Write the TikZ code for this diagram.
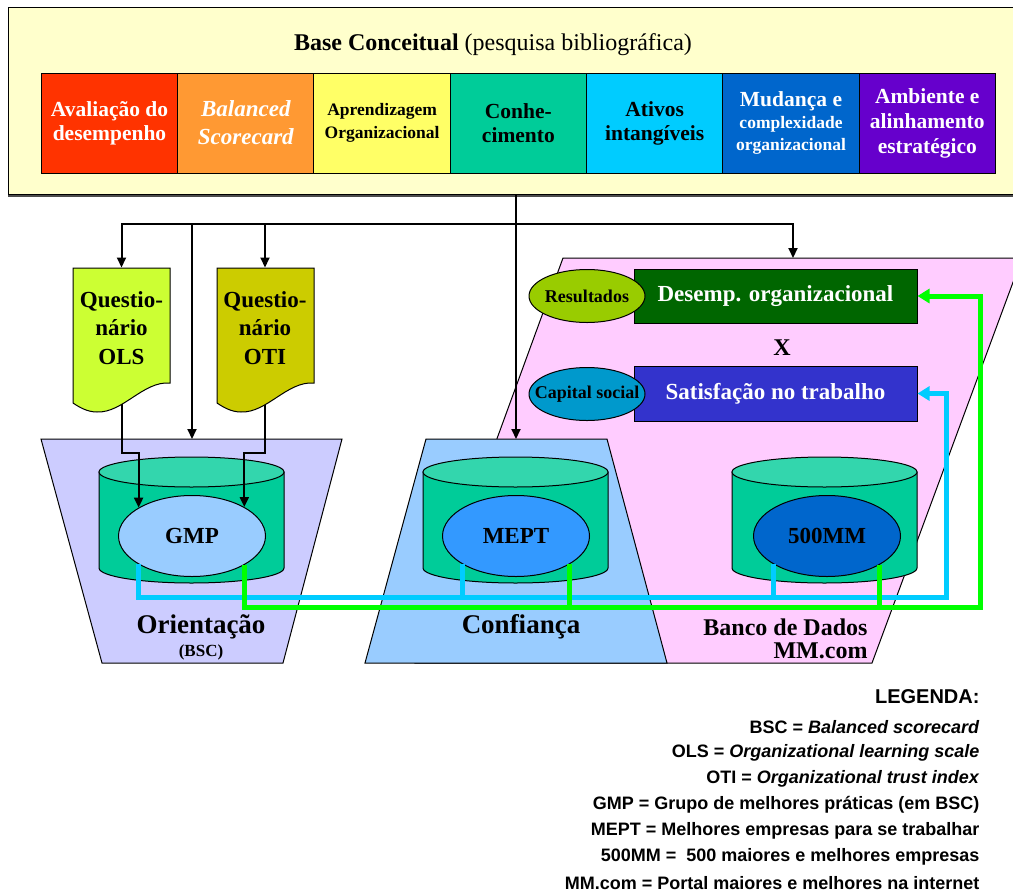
\documentclass[tikz,border=0pt]{standalone}
\usepackage{fontspec}
\setmainfont{Liberation Serif}
\newfontfamily\legfont{Liberation Sans}
\usetikzlibrary{shapes.geometric, positioning, calc, arrows.meta}

\definecolor{baseyel}{HTML}{FFFFCC}
\definecolor{cAval}{HTML}{FF3300}
\definecolor{cBal}{HTML}{FF9933}
\definecolor{cApr}{HTML}{FFFF66}
\definecolor{cCon}{HTML}{00CC99}
\definecolor{cAti}{HTML}{00CCFF}
\definecolor{cMud}{HTML}{0066CC}
\definecolor{cAmb}{HTML}{6600CC}
\definecolor{olsgreen}{HTML}{CCFF33}
\definecolor{otiolive}{HTML}{CCCC00}
\definecolor{orientlav}{HTML}{CCCCFF}
\definecolor{confblue}{HTML}{99CCFF}
\definecolor{bancopink}{HTML}{FFCCFF}
\definecolor{cylside}{HTML}{00CC99}
\definecolor{cyltop}{HTML}{33D6AD}
\definecolor{gmpfill}{HTML}{99CCFF}
\definecolor{meptfill}{HTML}{3399FF}
\definecolor{mmfill}{HTML}{0066CC}
\definecolor{resfill}{HTML}{99CC00}
\definecolor{capfill}{HTML}{0099CC}
\definecolor{desfill}{HTML}{006600}
\definecolor{satfill}{HTML}{3333CC}
\definecolor{linecyan}{HTML}{00CCFF}
\definecolor{linegreen}{HTML}{00FF00}

\tikzset{
  conc/.style={draw, minimum width=136.3pt, minimum height=100pt, inner sep=0pt, outer sep=0pt,
    align=center, font=\bfseries\fontsize{21.5}{24}\selectfont},
  docnode/.style={minimum width=97pt, minimum height=120pt, inner sep=0pt,
    align=center, font=\bfseries\fontsize{23}{28.5}\selectfont},
  dbell/.style={ellipse, draw, minimum width=147pt, minimum height=81pt, inner sep=0pt,
    font=\bfseries\fontsize{23}{26}\selectfont},
  tagell/.style={ellipse, draw, minimum width=116pt, minimum height=53pt, inner sep=0pt,
    font=\bfseries\fontsize{18}{20}\selectfont},
  resbox/.style={draw, text=white, minimum width=283pt, minimum height=54pt, inner sep=0pt,
    font=\bfseries\fontsize{23}{26}\selectfont},
  arr/.style={line width=2pt, -{Triangle[length=10pt,width=9pt]}},
  cyanflow/.style={line width=5pt, draw=linecyan},
  greenflow/.style={line width=5pt, draw=linegreen},
  flowtip/.style={-{Triangle[length=12pt,width=14pt]}},
  legline/.style={anchor=east, inner sep=0pt, font=\legfont\bfseries\fontsize{18}{22}\selectfont}
}

\begin{document}
\begin{tikzpicture}[x=1pt, y=-1pt, line width=1pt]
\useasboundingbox (0,0) rectangle (1013,892);

%base conceitual
  \draw[line width=3pt, black!70] (8,195) -- (1020,195);
  \node[draw, fill=baseyel, minimum width=1012pt, minimum height=187pt, anchor=north west,
    inner sep=0pt] (base) at (8,7) {};
  \node[font=\fontsize{24}{28}\selectfont] (title) at (493,45)
    {\textbf{Base Conceitual} (pesquisa bibliográfica)};

  \node[conc, fill=cAval, text=white] (c1) at (109.5,123) {Avaliação do\\desempenho};
  \node[conc, fill=cBal, text=white, right=0pt of c1, font=\bfseries\itshape\fontsize{23}{28}\selectfont] (c2)
    {Balanced\\Scorecard};
  \node[conc, fill=cApr, right=0pt of c2, font=\bfseries\fontsize{17.5}{23}\selectfont] (c3)
    {Aprendizagem\\Organizacional};
  \node[conc, fill=cCon, right=0pt of c3] (c4) {Conhe-\\cimento};
  \node[conc, fill=cAti, right=0pt of c4] (c5) {Ativos\\intangíveis};
  \node[conc, fill=cMud, text=white, right=0pt of c5, font=\bfseries\fontsize{21.5}{22}\selectfont] (c6)
    {Mudança e\\{\fontsize{17.5}{22}\selectfont complexidade}\\{\fontsize{17.5}{22}\selectfont organizacional}};
  \node[conc, fill=cAmb, text=white, right=0pt of c6, font=\bfseries\fontsize{21.5}{25}\selectfont] (c7)
    {Ambiente e\\alinhamento\\estratégico};

%areas
  \filldraw[fill=bancopink] (563,258) -- (1022,258) -- (872,663) -- (415,663) -- cycle;
  \filldraw[fill=confblue] (426,439) -- (607,439) -- (667,663) -- (365,663) -- cycle;
  \filldraw[fill=orientlav] (41,439) -- (342,439) -- (283,663) -- (102,663) -- cycle;
  \coordinate (orient) at (192,439);
  \coordinate (conf) at (516,439);
  \coordinate (banco) at (793,258);

  \node[font=\bfseries\fontsize{27}{30}\selectfont] (orientlbl) at (201,627) {Orientação};
  \node[font=\bfseries\fontsize{17}{18}\selectfont] (bsclbl) at (201,652) {(BSC)};
  \node[font=\bfseries\fontsize{27}{30}\selectfont] (conflbl) at (521,627) {Confiança};
  \node[anchor=east, align=right, inner sep=0pt, font=\bfseries\fontsize{24}{23}\selectfont] (bancolbl)
    at (868,639) {Banco de Dados\\MM.com};

%cylinders
  \foreach \c in {191.5,515.5,824.5}{
    \filldraw[fill=cylside] (\c-92.5,472) -- (\c-92.5,568)
      arc[start angle=180, end angle=0, x radius=92.5, y radius=15] -- (\c+92.5,472) -- cycle;
    \filldraw[fill=cyltop] (\c,472) circle[x radius=92.5, y radius=15];
  }
  \node[dbell, fill=gmpfill] (gmp) at (192,536) {GMP};
  \node[dbell, fill=meptfill] (mept) at (516,536) {MEPT};
  \node[dbell, fill=mmfill] (mm) at (827,536) {500MM};

%questionarios
  \coordinate (turn) at (0,453);
  \node[docnode] (ols) at (121.5,328) {};
  \node[docnode] (oti) at (265,328) {};
  \draw[arr] (ols.south) -- (ols.south |- turn) -| (gmp.152);
  \draw[arr] (oti.south) -- (oti.south |- turn) -| (gmp.29);
  \foreach \x/\col in {73/olsgreen,217/otiolive}{
    \filldraw[fill=\col] (\x,268) -- (\x+97,268) -- (\x+97,383)
      .. controls (\x+70,381) and (\x+50,413) .. (\x+24,412)
      .. controls (\x+14,412) and (\x+6,407) .. (\x,403) -- cycle;
  }
  \node[docnode] at (ols) {Questio-\\nário\\OLS};
  \node[docnode] at (oti) {Questio-\\nário\\OTI};

%resultados
  \node[resbox, fill=desfill] (desemp) at (775.5,296) {Desemp. organizacional};
  \node[resbox, fill=satfill, minimum height=55pt] (satis) at (775.5,393.5) {Satisfação no trabalho};
  \node[tagell, fill=resfill] (res) at (587,296) {\makebox[0pt]{Resultados}};
  \node[tagell, fill=capfill] (cap) at (587,394) {\makebox[0pt]{Capital social}};
  \node[font=\bfseries\fontsize{24}{26}\selectfont] (vs) at (782,348) {X};

%arrows
  \coordinate (split) at (516,224);
  \draw[arr] (base.south -| conf) -- (conf);
  \draw[arr] (split) -| (ols.north);
  \draw[arr] (split) -| (oti.north);
  \draw[arr] (split) -| (orient);
  \draw[arr] (split) -| (banco);

%data flows
  \coordinate (cyanbus) at (0,597);
  \coordinate (greenbus) at (0,607);
  \coordinate (cyanup) at (946,0);
  \coordinate (greenup) at (980,0);
  \draw[cyanflow, flowtip] (gmp.208) |- (cyanup |- cyanbus) |- (satis.east);
  \draw[cyanflow] (mept.208) -- (mept.208 |- cyanbus);
  \draw[cyanflow] (mm.208) -- (mm.208 |- cyanbus);
  \draw[greenflow, flowtip] (gmp.331) |- (greenup |- greenbus) |- (desemp.east);
  \draw[greenflow] (mept.332) -- (mept.332 |- greenbus);
  \draw[greenflow] (mm.331) -- (mm.331 |- greenbus);

%legenda
  \node[legline, font=\legfont\bfseries\fontsize{20}{24}\selectfont] (leg0) at (980,697) {LEGENDA:};
  \foreach \txt [count=\i] in {{BSC = \textit{Balanced scorecard}},
      {OLS = \textit{Organizational learning scale}},
      {OTI = \textit{Organizational trust index}},
      {GMP = Grupo de melhores práticas (em BSC)},
      {MEPT = Melhores empresas para se trabalhar},
      {500MM =\ \ 500 maiores e melhores empresas},
      {MM.com = Portal maiores e melhores na internet}}{
    \node[legline] (leg\i) at (980,701+26*\i) {\txt};
  }
\end{tikzpicture}
\end{document}
